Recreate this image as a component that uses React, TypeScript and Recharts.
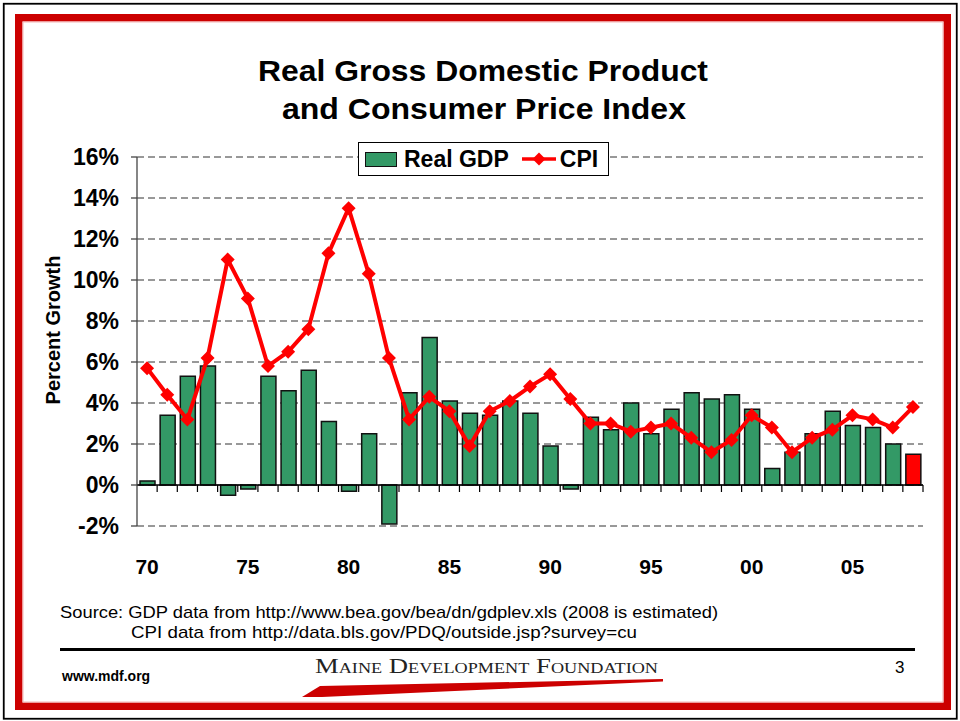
import React from 'react';
import {
  ComposedChart,
  Bar,
  Line,
  XAxis,
  YAxis,
  CartesianGrid,
  ReferenceLine,
  Legend,
  Cell,
} from 'recharts';

// ---------- data ----------
const years = [
  1970, 1971, 1972, 1973, 1974, 1975, 1976, 1977, 1978, 1979,
  1980, 1981, 1982, 1983, 1984, 1985, 1986, 1987, 1988, 1989,
  1990, 1991, 1992, 1993, 1994, 1995, 1996, 1997, 1998, 1999,
  2000, 2001, 2002, 2003, 2004, 2005, 2006, 2007, 2008,
];
const realGdp = [
  0.2, 3.4, 5.3, 5.8, -0.5, -0.2, 5.3, 4.6, 5.6, 3.1,
  -0.3, 2.5, -1.9, 4.5, 7.2, 4.1, 3.5, 3.4, 4.1, 3.5,
  1.9, -0.2, 3.3, 2.7, 4.0, 2.5, 3.7, 4.5, 4.2, 4.4,
  3.7, 0.8, 1.6, 2.5, 3.6, 2.9, 2.8, 2.0, 1.5,
];
const cpi = [
  5.7, 4.4, 3.2, 6.2, 11.0, 9.1, 5.8, 6.5, 7.6, 11.3,
  13.5, 10.3, 6.2, 3.2, 4.3, 3.6, 1.9, 3.6, 4.1, 4.8,
  5.4, 4.2, 3.0, 3.0, 2.6, 2.8, 3.0, 2.3, 1.6, 2.2,
  3.4, 2.8, 1.6, 2.3, 2.7, 3.4, 3.2, 2.8, 3.8,
];
const estimatedYears = [2008];
const yTicks = [-2, 0, 2, 4, 6, 8, 10, 12, 14, 16];
const seriesNames = { gdp: 'Real GDP', cpi: 'CPI' };

const chartData = years.map((year, i) => ({
  year,
  gdp: realGdp[i],
  cpi: cpi[i],
}));

// ---------- styles ----------
const FONT = '"Liberation Sans", Arial, Helvetica, sans-serif';
const GREEN = '#339966';
const RED = '#FF0000';
const FRAME_RED = '#CC0000';

const Diamond = (props: any) => {
  const { cx, cy } = props;
  if (cx == null || cy == null) return null;
  const r = 7;
  return (
    <polygon
      points={`${cx},${cy - r} ${cx + r},${cy} ${cx},${cy + r} ${cx - r},${cy}`}
      fill={RED}
      stroke="none"
    />
  );
};

const ZeroAxis = (props: any) => {
  const { x1, y1, x2, y2 } = props;
  if (x1 == null) return null;
  const n = years.length;
  const step = (x2 - x1) / n;
  return (
    <g>
      <line x1={x1} y1={y1} x2={x2} y2={y2} stroke="#000" strokeWidth={1.5} />
      {years.map((_, i) => (
        <line
          key={i}
          x1={x1 + step * (i + 1)}
          x2={x1 + step * (i + 1)}
          y1={y1}
          y2={y1 + 7}
          stroke="#000"
          strokeWidth={1.2}
        />
      ))}
    </g>
  );
};

const LegendBox = () => (
  <div
    style={{
      display: 'flex',
      alignItems: 'center',
      height: 34,
      boxSizing: 'border-box',
      border: '1px solid #000',
      background: '#fff',
      padding: '0 10px 0 6px',
      fontFamily: FONT,
      fontWeight: 'bold',
      fontSize: 23,
      color: '#000',
      whiteSpace: 'nowrap',
    }}
  >
    <span
      style={{
        display: 'inline-block',
        width: 32,
        height: 15,
        boxSizing: 'border-box',
        background: GREEN,
        border: '1.5px solid #111',
        marginRight: 7,
      }}
    />
    <span>{seriesNames.gdp}</span>
    <svg width={34} height={16} style={{ marginLeft: 13, marginRight: 4 }}>
      <line x1={0} y1={8} x2={34} y2={8} stroke={RED} strokeWidth={3.5} />
      <polygon points="17,1.5 23.5,8 17,14.5 10.5,8" fill={RED} />
    </svg>
    <span>{seriesNames.cpi}</span>
  </div>
);

export default function App() {
  return (
    <div
      style={{
        position: 'absolute',
        left: 0,
        top: 0,
        width: 960,
        height: 721,
        background: '#fff',
        overflow: 'hidden',
      }}
    >
      {/* frame, titles, footer */}
      <svg
        width={960}
        height={721}
        style={{ position: 'absolute', left: 0, top: 0 }}
      >
        <rect x={3.75} y={3.75} width={953} height={715} fill="none" stroke="#000" strokeWidth={1.8} />
        <rect x={18.75} y={17.75} width={928.5} height={688.5} fill="none" stroke={FRAME_RED} strokeWidth={7.5} />
        <rect x={23} y={22} width={920} height={680} fill="none" stroke="#F3B5B5" strokeWidth={1} />

        <text x={258} y={81} fontFamily={FONT} fontWeight="bold" fontSize={30} textLength={450} lengthAdjust="spacingAndGlyphs" fill="#000">
          Real Gross Domestic Product
        </text>
        <text x={282} y={119} fontFamily={FONT} fontWeight="bold" fontSize={30} textLength={404} lengthAdjust="spacingAndGlyphs" fill="#000">
          and Consumer Price Index
        </text>

        <text
          x={0}
          y={0}
          transform="translate(60,330) rotate(-90)"
          textAnchor="middle"
          fontFamily={FONT}
          fontWeight="bold"
          fontSize={20}
          fill="#000"
        >
          Percent Growth
        </text>

        <text x={60} y={618} fontFamily={FONT} fontSize={17} textLength={658} lengthAdjust="spacingAndGlyphs" fill="#000">
          Source:  GDP data from http://www.bea.gov/bea/dn/gdplev.xls (2008 is estimated)
        </text>
        <text x={131} y={638} fontFamily={FONT} fontSize={17} textLength={506} lengthAdjust="spacingAndGlyphs" fill="#000">
          CPI data from http://data.bls.gov/PDQ/outside.jsp?survey=cu
        </text>

        <rect x={60} y={648} width={855} height={3} fill="#000" />

        <text x={62} y={681} fontFamily={FONT} fontWeight="bold" fontSize={14} fill="#000">
          www.mdf.org
        </text>
        <text x={895} y={673} fontFamily={FONT} fontSize={17} fill="#000">
          3
        </text>

        <text
          x={315}
          y={673}
          fontFamily='"Liberation Serif", "Times New Roman", serif'
          fontSize={22}
          fill="#222"
          textLength={343}
          lengthAdjust="spacingAndGlyphs"
          style={{ fontVariant: 'small-caps' }}
        >
          Maine Development Foundation
        </text>
        <polygon points="302,697 320,686 663,679 663,681.5 322,697" fill={FRAME_RED} />
      </svg>

      <div style={{ position: 'absolute', left: 0, top: 0 }}>
        <ComposedChart
          width={960}
          height={721}
          data={chartData}
          margin={{ top: 157, right: 37, bottom: 155, left: 37 }}
          barCategoryGap={0}
        >
          <CartesianGrid vertical={false} stroke="#333" strokeDasharray="7 4" strokeWidth={1} />
          <XAxis
            dataKey="year"
            interval={4}
            tickFormatter={(v: number) => String(v).slice(2)}
            axisLine={false}
            tickLine={false}
            tickSize={0}
            tickMargin={33}
            height={40}
            tick={{ fontFamily: FONT, fontWeight: 'bold', fontSize: 21, fill: '#000' }}
          />
          <YAxis
            domain={[-2, 16]}
            ticks={yTicks}
            interval={0}
            allowDataOverflow
            tickFormatter={(v: number) => `${v}%`}
            width={100}
            tickSize={6}
            tickMargin={12}
            axisLine={{ stroke: '#444', strokeWidth: 1.3 }}
            tickLine={{ stroke: '#444', strokeWidth: 1.3 }}
            tick={{ fontFamily: FONT, fontWeight: 'bold', fontSize: 23, fill: '#000' }}
          />
          <Legend
            layout="horizontal"
            verticalAlign="middle"
            align="center"
            wrapperStyle={{ top: 142, left: 358, width: 'auto', height: 'auto' }}
            content={() => <LegendBox />}
          />
          <Bar
            dataKey="gdp"
            name={seriesNames.gdp}
            fill={GREEN}
            barSize={15}
            stroke="#111"
            strokeWidth={1.5}
            isAnimationActive={false}
          >
            {chartData.map((d, i) => (
              <Cell key={i} fill={estimatedYears.includes(d.year) ? RED : GREEN} />
            ))}
          </Bar>
          <ReferenceLine y={0} shape={(p: any) => <ZeroAxis {...p} />} />
          <Line
            dataKey="cpi"
            name={seriesNames.cpi}
            type="linear"
            stroke={RED}
            strokeWidth={4}
            dot={(p: any) => <Diamond key={p.index} {...p} />}
            activeDot={false}
            isAnimationActive={false}
          />
        </ComposedChart>
      </div>
    </div>
  );
}
